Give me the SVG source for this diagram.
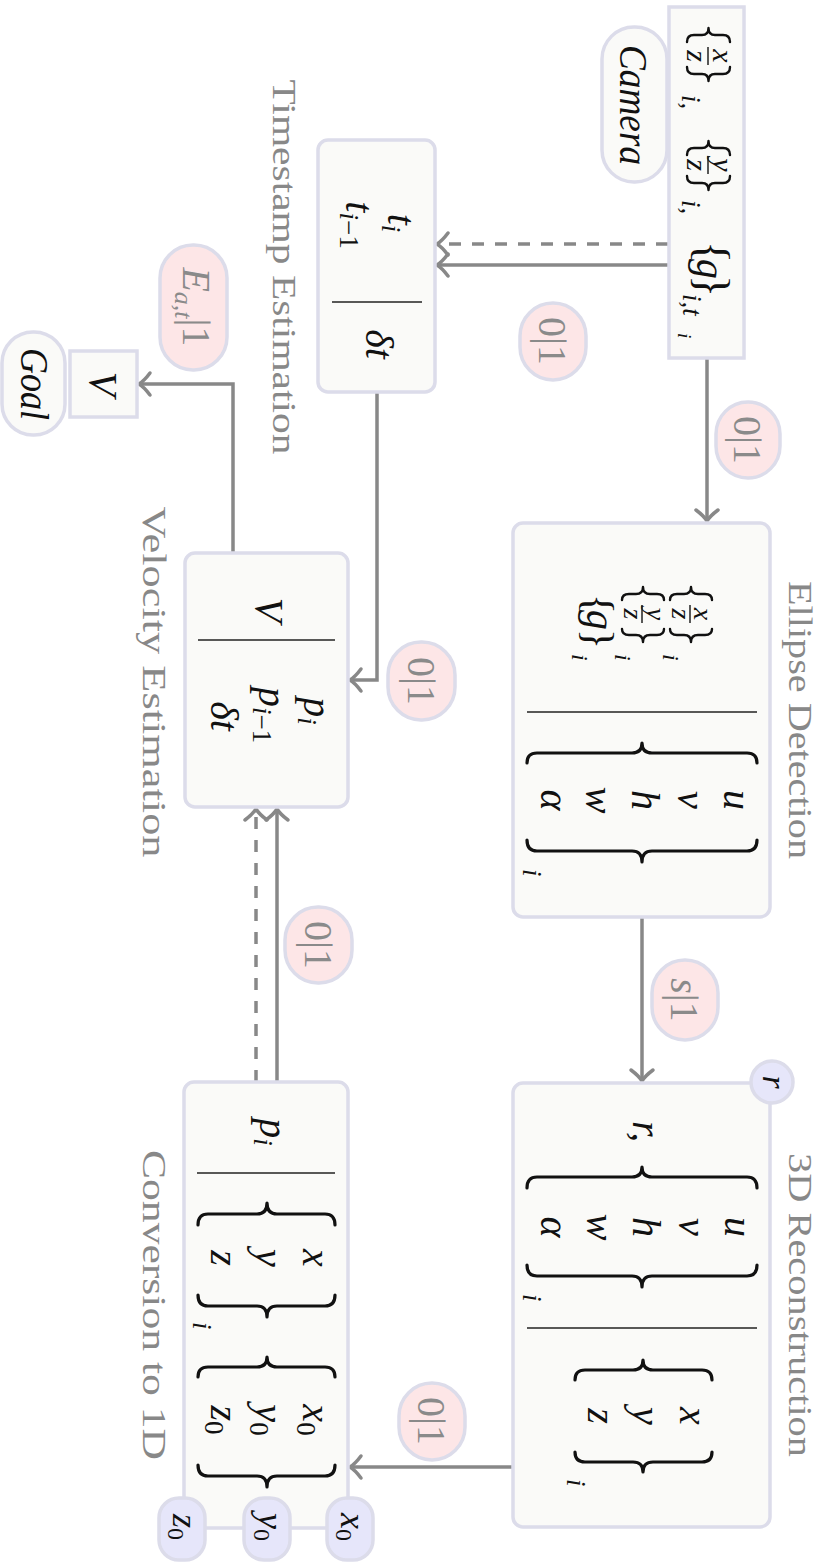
<svg xmlns="http://www.w3.org/2000/svg" width="825" height="1564" viewBox="0 0 825 1564">
<style>
.box{fill:#fafaf8;stroke:#dcdcea;stroke-width:3.5}
.pk{fill:#fde6e7;stroke:#dcdcea;stroke-width:3.5}
.lv{fill:#e6e6fa;stroke:#dcdcea;stroke-width:3.5}
.cn{fill:none;stroke:#888;stroke-width:3.5}
.dash{stroke-dasharray:12 11}
.div{stroke:#222;stroke-width:1.5}
.br{fill:none;stroke:#111;stroke-width:3.2;stroke-linecap:round;stroke-linejoin:round}
.sb{fill:none;stroke:#111;stroke-width:2.4;stroke-linecap:round;stroke-linejoin:round}
.lbl{font-family:"Liberation Serif",serif;font-size:34px;fill:#888}
.pl{font-family:"Liberation Serif",serif;font-size:40px;fill:#8a8a8a}
.mi{font-family:"Liberation Serif",serif;font-style:italic;fill:#111}
.mr{font-family:"Liberation Serif",serif;fill:#111}
.s{font-size:27px}
.up{font-style:normal}
</style>
<defs>
<marker id="ar" markerUnits="userSpaceOnUse" viewBox="-14 -13 16 26" markerWidth="16" markerHeight="26" refX="0" refY="0" orient="auto" overflow="visible">
<path d="M-11,-11 Q-5,-3 0,0 Q-5,3 -11,11" fill="none" stroke="#888" stroke-width="3.5" stroke-linecap="round"/>
</marker>
</defs>
<g transform="translate(825,0) rotate(90)" style="font-size:40px">

<g id="connectors">
<line class="cn" x1="358" y1="118" x2="521" y2="118" marker-end="url(#ar)"/>
<line class="cn" x1="265" y1="157" x2="265" y2="388" marker-end="url(#ar)"/>
<line class="cn dash" x1="244" y1="157" x2="244" y2="388" marker-end="url(#ar)"/>
<path class="cn" d="M392,448 L680,448 L680,475" marker-end="url(#ar)"/>
<path class="cn" d="M553,592 L384,592 L384,686" marker-end="url(#ar)"/>
<line class="cn" x1="917" y1="183" x2="1081" y2="183" marker-end="url(#ar)"/>
<line class="cn" x1="1467" y1="312" x2="1467" y2="475" marker-end="url(#ar)"/>
<line class="cn" x1="1082" y1="548" x2="809" y2="548" marker-end="url(#ar)"/>
<line class="cn dash" x1="1082" y1="569" x2="809" y2="569" marker-end="url(#ar)"/>
</g>

<g id="edge-labels">
<rect class="pk" x="402" y="45" width="76" height="64" rx="32"/>
<text class="pl" x="440" y="91" text-anchor="middle">0|1</text>
<rect class="pk" x="303" y="239" width="77" height="66" rx="33"/>
<text class="pl" x="341" y="286" text-anchor="middle">0|1</text>
<rect class="pk" x="642" y="370" width="78" height="67" rx="33"/>
<text class="pl" x="681" y="417" text-anchor="middle">0|1</text>
<rect class="pk" x="960" y="107" width="80" height="66" rx="33"/>
<text class="pl" x="1000" y="154" text-anchor="middle"><tspan font-style="italic">s</tspan>|1</text>
<rect class="pk" x="907" y="473" width="76" height="67" rx="33"/>
<text class="pl" x="945" y="520" text-anchor="middle">0|1</text>
<rect class="pk" x="1383" y="360" width="77" height="66" rx="33"/>
<text class="pl" x="1421" y="407" text-anchor="middle">0|1</text>
<rect class="pk" x="245" y="598" width="125" height="67" rx="33"/>
<text class="pl" x="307" y="642" text-anchor="middle"><tspan font-style="italic">E</tspan><tspan font-style="italic" font-size="26" dy="8">a,t</tspan><tspan dy="-8">|1</tspan></text>
</g>

<g id="camera">
<rect class="box" x="27" y="158" width="155" height="65" rx="32"/>
<text class="mi" x="105" y="205" text-anchor="middle" textLength="120" lengthAdjust="spacingAndGlyphs">Camera</text>
</g>

<g id="source">
<rect class="box" x="7" y="81" width="351" height="75"/>
<path class="sb" d="M42,95 Q35,95 35,102 L35,110 Q35,116.5 28,116.5 Q35,116.5 35,123 L35,131 Q35,138 42,138"/>
<text class="mi" font-size="30" x="56" y="112" text-anchor="middle">x</text>
<line class="div" x1="47" y1="117" x2="65" y2="117"/>
<text class="mi" font-size="30" x="56" y="138" text-anchor="middle">z</text>
<path class="sb" d="M67,95 Q74,95 74,102 L74,110 Q74,116.5 81,116.5 Q74,116.5 74,123 L74,131 Q74,138 67,138"/>
<text class="mi" font-size="27" x="95" y="143">i,</text>
<path class="sb" d="M155,95 Q148,95 148,102 L148,110 Q148,116.5 141,116.5 Q148,116.5 148,123 L148,131 Q148,138 155,138"/>
<text class="mi" font-size="30" x="165" y="112" text-anchor="middle">y</text>
<line class="div" x1="156" y1="117" x2="174" y2="117"/>
<text class="mi" font-size="30" x="165" y="138" text-anchor="middle">z</text>
<path class="sb" d="M176,95 Q183,95 183,102 L183,110 Q183,116.5 190,116.5 Q183,116.5 183,123 L183,131 Q183,138 176,138"/>
<text class="mi" font-size="27" x="200" y="143">i,</text>
<text class="mr" font-size="46" x="241" y="128">{</text>
<text class="mi" x="259" y="128">g</text>
<text class="mr" font-size="46" x="275" y="128">}</text>
<text class="mi" font-size="27" x="294" y="142">i,t</text>
<text class="mi" font-size="19" x="333" y="147">i</text>
</g>

<g id="ellipse">
<rect class="box" x="523" y="55" width="394" height="257" rx="10"/>
<line class="div" x1="712" y1="68" x2="712" y2="298"/>
<path class="sb" d="M600,113 Q594,113 594,120 L594,127 Q594,134 587,134 Q594,134 594,141 L594,148 Q594,155 600,155"/>
<text class="mi" font-size="28" x="614" y="131" text-anchor="middle">x</text>
<line class="div" x1="605" y1="135" x2="623" y2="135"/>
<text class="mi" font-size="28" x="614" y="153" text-anchor="middle">z</text>
<path class="sb" d="M629,113 Q635,113 635,120 L635,127 Q635,134 642,134 Q635,134 635,141 L635,148 Q635,155 629,155"/>
<text class="mi" font-size="24" x="654" y="162">i</text>
<path class="sb" d="M600,161 Q594,161 594,168 L594,175 Q594,182 587,182 Q594,182 594,189 L594,196 Q594,203 600,203"/>
<text class="mi" font-size="28" x="614" y="178" text-anchor="middle">y</text>
<line class="div" x1="605" y1="183" x2="623" y2="183"/>
<text class="mi" font-size="28" x="614" y="201" text-anchor="middle">z</text>
<path class="sb" d="M629,161 Q635,161 635,168 L635,175 Q635,182 642,182 Q635,182 635,189 L635,196 Q635,203 629,203"/>
<text class="mi" font-size="24" x="654" y="210">i</text>
<text class="mr" font-size="42" x="594" y="240">{</text>
<text class="mi" x="610" y="238">g</text>
<text class="mr" font-size="42" x="629" y="240">}</text>
<text class="mi" font-size="24" x="654" y="253">i</text>
<path class="br" d="M763,68 Q753,68 753,78 L753,173 Q753,183 743,183 Q753,183 753,193 L753,288 Q753,298 763,298"/>
<path class="br" d="M840,68 Q851,68 851,78 L851,173 Q851,183 862,183 Q851,183 851,193 L851,288 Q851,298 840,298"/>
<text class="mi" x="800" y="101" text-anchor="middle">u</text>
<text class="mi" x="800" y="147" text-anchor="middle">v</text>
<text class="mi" x="800" y="193" text-anchor="middle">h</text>
<text class="mi" x="800" y="239" text-anchor="middle">w</text>
<text class="mi" x="800" y="284" text-anchor="middle">α</text>
<text class="mi" font-size="27" x="869" y="302">i</text>
<text class="lbl" x="720" y="36" text-anchor="middle" textLength="278" lengthAdjust="spacingAndGlyphs">Ellipse Detection</text>
</g>

<g id="reconstruction">
<rect class="box" x="1083" y="55" width="444" height="257" rx="10"/>
<line class="div" x1="1328" y1="68" x2="1328" y2="298"/>
<text class="mi" x="1121" y="192">r,</text>
<path class="br" d="M1188,68 Q1177,68 1177,78 L1177,173 Q1177,183 1167,183 Q1177,183 1177,193 L1177,288 Q1177,298 1188,298"/>
<path class="br" d="M1265,68 Q1276,68 1276,78 L1276,173 Q1276,183 1287,183 Q1276,183 1276,193 L1276,288 Q1276,298 1265,298"/>
<text class="mi" x="1227" y="100" text-anchor="middle">u</text>
<text class="mi" x="1227" y="146" text-anchor="middle">v</text>
<text class="mi" x="1227" y="192" text-anchor="middle">h</text>
<text class="mi" x="1227" y="238" text-anchor="middle">w</text>
<text class="mi" x="1227" y="284" text-anchor="middle">α</text>
<text class="mi" font-size="27" x="1294" y="302">i</text>
<path class="br" d="M1380,113 Q1370,113 1370,123 L1370,172 Q1370,182 1360,182 Q1370,182 1370,192 L1370,240 Q1370,250 1380,250"/>
<path class="br" d="M1452,113 Q1462,113 1462,123 L1462,172 Q1462,182 1472,182 Q1462,182 1462,192 L1462,240 Q1462,250 1452,250"/>
<text class="mi" x="1416" y="145" text-anchor="middle">x</text>
<text class="mi" x="1416" y="192" text-anchor="middle">y</text>
<text class="mi" x="1416" y="237" text-anchor="middle">z</text>
<text class="mi" font-size="27" x="1479" y="258">i</text>
<circle class="lv" cx="1082" cy="53" r="21"/>
<text class="mi" font-size="34" x="1082" y="62" text-anchor="middle">r</text>
<text class="lbl" x="1305" y="36" text-anchor="middle" textLength="304" lengthAdjust="spacingAndGlyphs">3D Reconstruction</text>
</g>

<g id="timestamp">
<rect class="box" x="140" y="390" width="252" height="117" rx="10"/>
<line class="div" x1="302" y1="403" x2="302" y2="493"/>
<text class="mi" x="223" y="437" text-anchor="middle">t<tspan class="s" dy="6">i</tspan></text>
<text class="mi" x="225" y="479" text-anchor="middle">t<tspan class="s" dy="6">i<tspan class="up">−1</tspan></tspan></text>
<text class="mi" x="344" y="459" text-anchor="middle">δt</text>
<text class="lbl" x="267" y="552" text-anchor="middle" textLength="375" lengthAdjust="spacingAndGlyphs">Timestamp Estimation</text>
</g>

<g id="velocity">
<rect class="box" x="553" y="477" width="254" height="163" rx="10"/>
<line class="div" x1="640" y1="490" x2="640" y2="627"/>
<text class="mi" x="610" y="569" text-anchor="middle">V</text>
<text class="mi" x="711" y="521" text-anchor="middle">p<tspan class="s" dy="6">i</tspan></text>
<text class="mi" x="715" y="566" text-anchor="middle">p<tspan class="s" dy="6">i<tspan class="up">−1</tspan></tspan></text>
<text class="mi" x="716" y="614" text-anchor="middle">δt</text>
<text class="lbl" x="682" y="682" text-anchor="middle" textLength="351" lengthAdjust="spacingAndGlyphs">Velocity Estimation</text>
</g>

<g id="conversion">
<rect class="box" x="1082" y="477" width="446" height="164" rx="10"/>
<line class="div" x1="1173" y1="490" x2="1173" y2="628"/>
<text class="mi" x="1132" y="565" text-anchor="middle">p<tspan class="s" dy="6">i</tspan></text>
<path class="br" d="M1225,490 Q1214,490 1214,500 L1214,548 Q1214,558 1203,558 Q1214,558 1214,568 L1214,617 Q1214,627 1225,627"/>
<path class="br" d="M1295,490 Q1306,490 1306,500 L1306,548 Q1306,558 1317,558 Q1306,558 1306,568 L1306,617 Q1306,627 1295,627"/>
<text class="mi" x="1258" y="522" text-anchor="middle">x</text>
<text class="mi" x="1258" y="569" text-anchor="middle">y</text>
<text class="mi" x="1258" y="614" text-anchor="middle">z</text>
<text class="mi" font-size="27" x="1322" y="632">i</text>
<path class="br" d="M1377,490 Q1367,490 1367,500 L1367,548 Q1367,558 1357,558 Q1367,558 1367,568 L1367,617 Q1367,627 1377,627"/>
<path class="br" d="M1465,490 Q1476,490 1476,500 L1476,548 Q1476,558 1487,558 Q1476,558 1476,568 L1476,617 Q1476,627 1465,627"/>
<text class="mi" x="1420" y="522" text-anchor="middle">x<tspan class="s up" dy="6">0</tspan></text>
<text class="mi" x="1420" y="569" text-anchor="middle">y<tspan class="s up" dy="6">0</tspan></text>
<text class="mi" x="1420" y="614" text-anchor="middle">z<tspan class="s up" dy="6">0</tspan></text>
<text class="lbl" x="1305" y="682" text-anchor="middle" textLength="310" lengthAdjust="spacingAndGlyphs">Conversion to 1D</text>
</g>

<g id="x0">
<rect class="lv" x="1498" y="452" width="62" height="46" rx="20"/>
<text class="mi" font-size="36" x="1527" y="484" text-anchor="middle">x<tspan class="up" font-size="24" dy="5">0</tspan></text>
</g>
<g id="y0">
<rect class="lv" x="1498" y="535" width="62" height="46" rx="20"/>
<text class="mi" font-size="36" x="1527" y="566" text-anchor="middle">y<tspan class="up" font-size="24" dy="5">0</tspan></text>
</g>
<g id="z0">
<rect class="lv" x="1498" y="620" width="62" height="46" rx="20"/>
<text class="mi" font-size="36" x="1527" y="652" text-anchor="middle">z<tspan class="up" font-size="24" dy="5">0</tspan></text>
</g>

<g id="vout">
<rect class="box" x="351" y="688" width="66" height="67"/>
<text class="mi" x="384" y="735" text-anchor="middle">V</text>
</g>

<g id="goal">
<rect class="box" x="332" y="760" width="103" height="63" rx="31"/>
<text class="mi" x="384" y="804" text-anchor="middle" textLength="72" lengthAdjust="spacingAndGlyphs">Goal</text>
</g>

</g>
</svg>
